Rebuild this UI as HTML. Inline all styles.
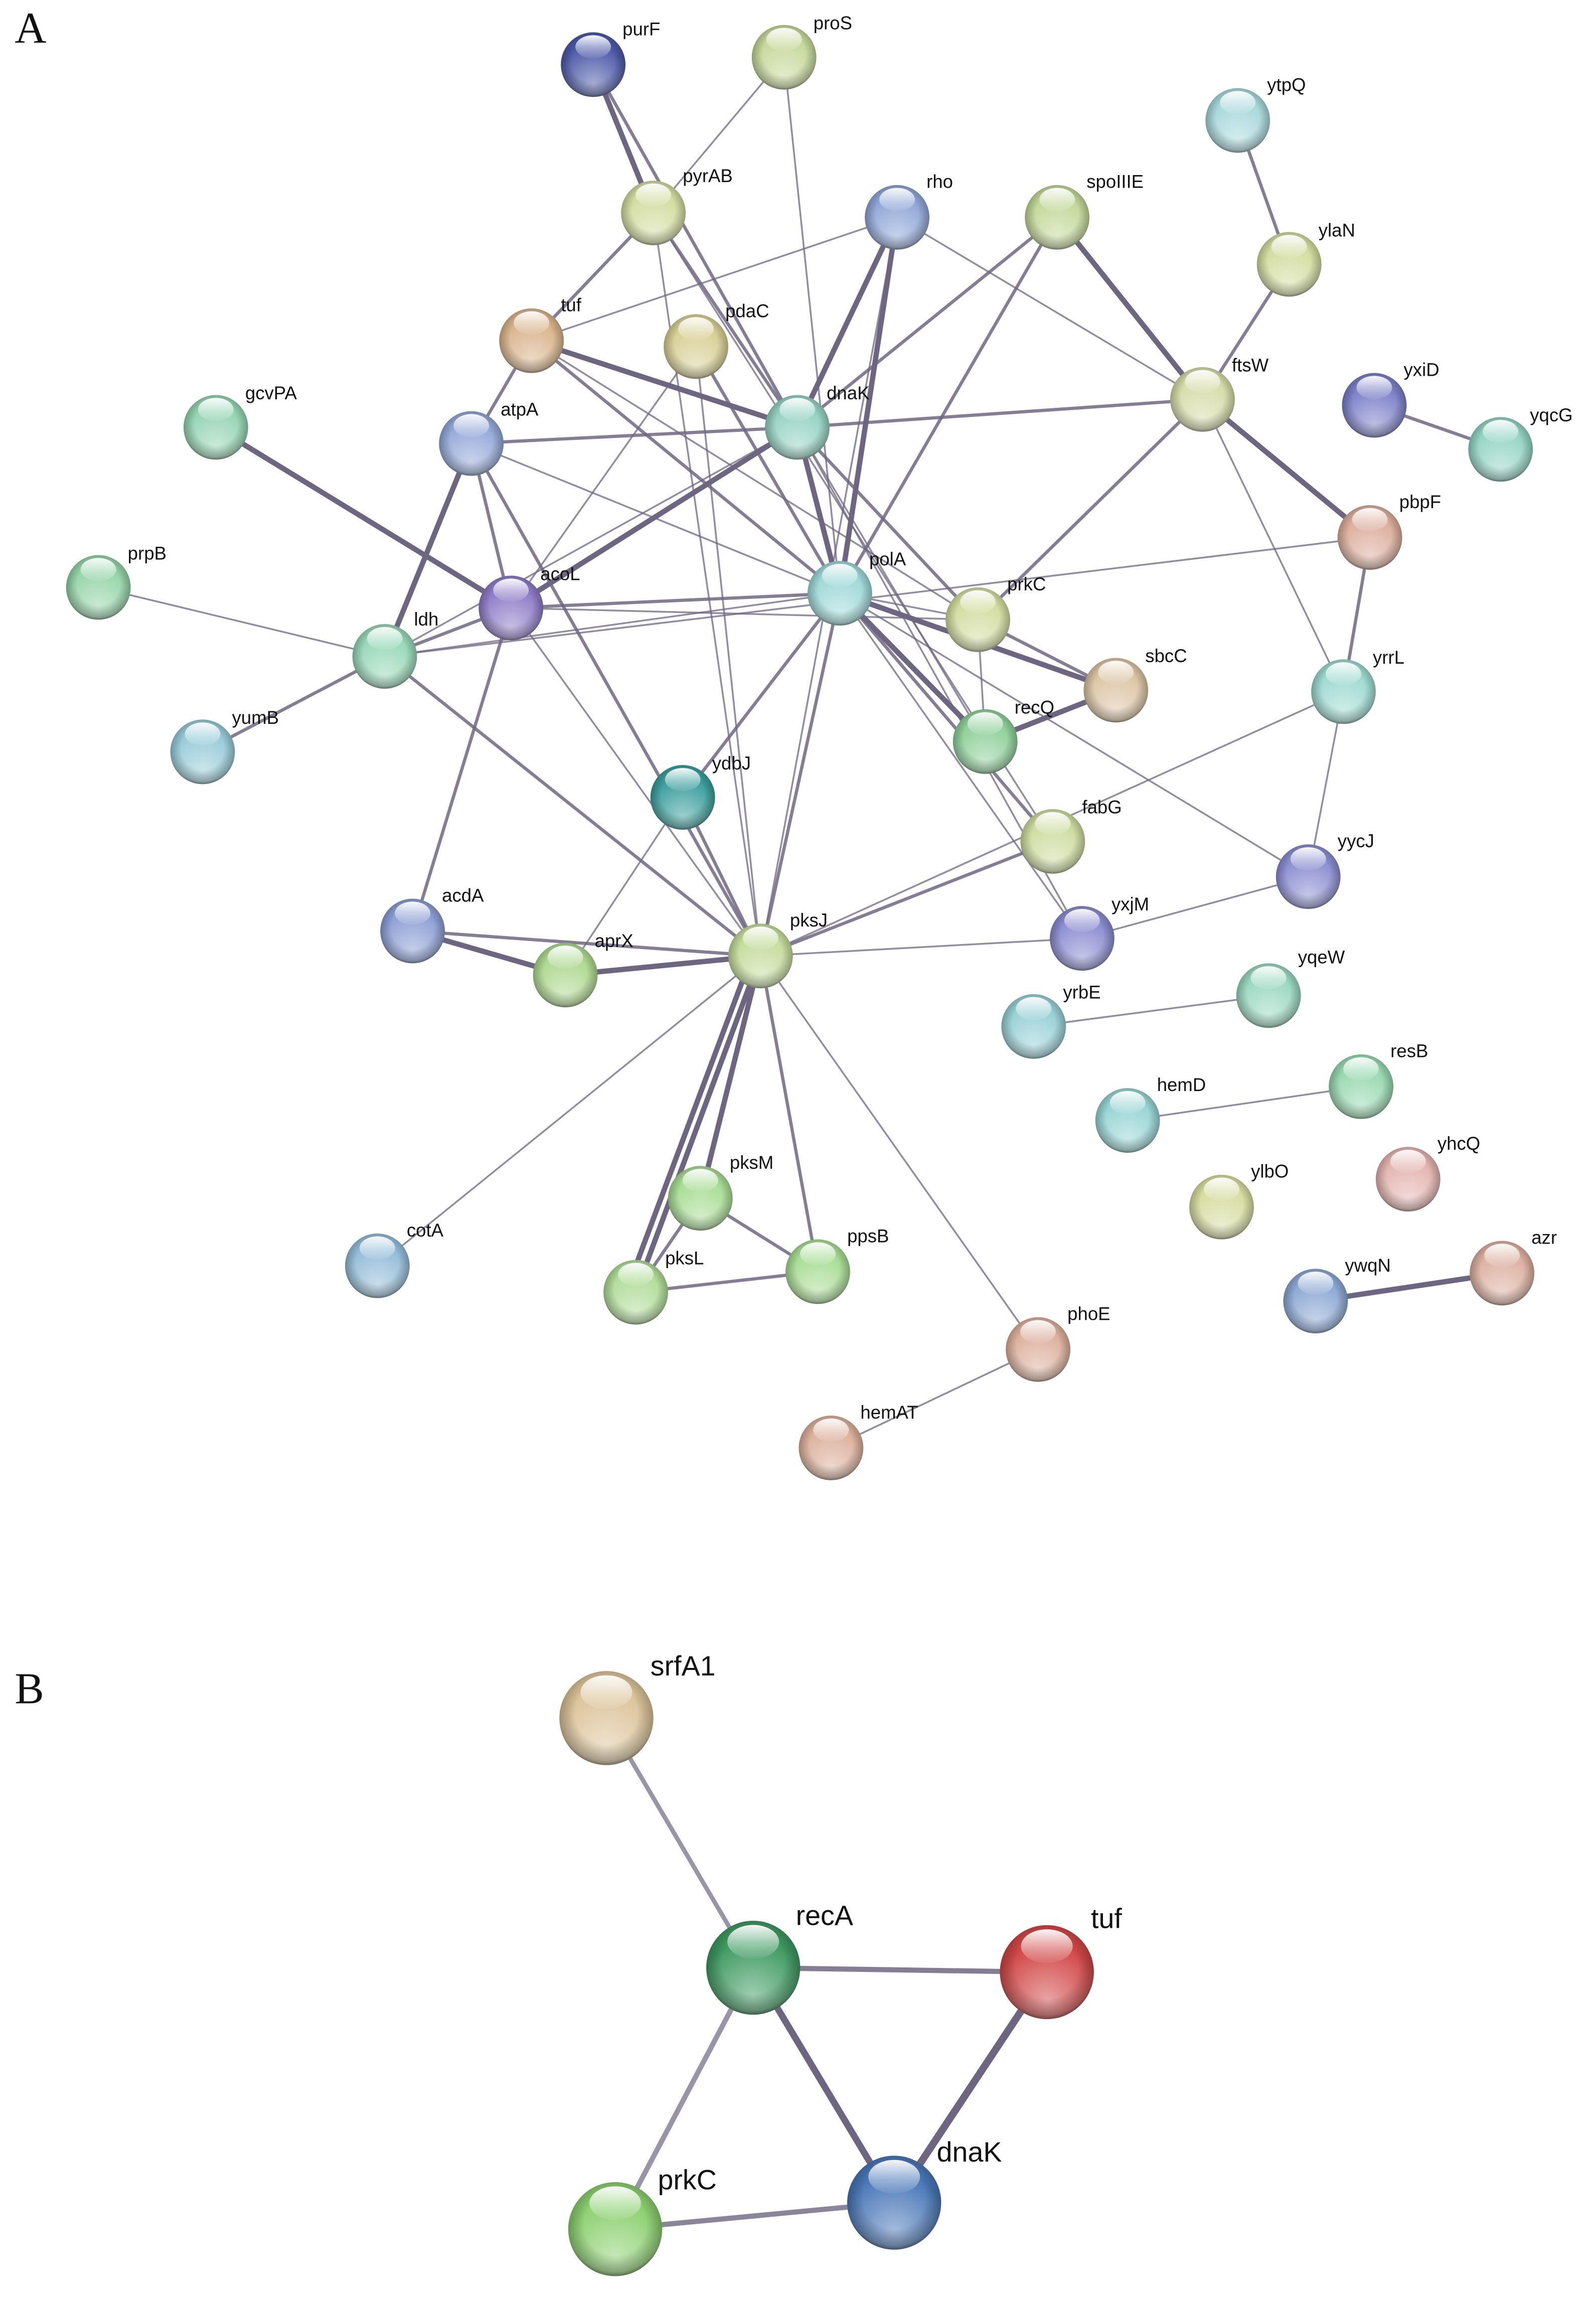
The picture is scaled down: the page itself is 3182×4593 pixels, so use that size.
<!DOCTYPE html>
<html><head><meta charset="utf-8">
<style>
html,body{margin:0;padding:0;background:#fff;}
svg{display:block;}
text{font-family:"Liberation Sans",sans-serif;fill:#111;}
</style></head>
<body>
<svg width="3182" height="4593" viewBox="0 0 1087 1569" xmlns="http://www.w3.org/2000/svg">
<defs>
<radialGradient id="shade" cx="50%" cy="45%" r="55%">
<stop offset="0.6" stop-color="#000" stop-opacity="0"/>
<stop offset="0.92" stop-color="#000" stop-opacity="0.28"/>
<stop offset="1" stop-color="#000" stop-opacity="0.5"/>
</radialGradient>
<radialGradient id="lite" cx="50%" cy="80%" r="60%">
<stop offset="0" stop-color="#fff" stop-opacity="0.5"/>
<stop offset="1" stop-color="#fff" stop-opacity="0"/>
</radialGradient>
<linearGradient id="hl" x1="0" y1="0" x2="0" y2="1">
<stop offset="0" stop-color="#fff" stop-opacity="0.95"/>
<stop offset="1" stop-color="#fff" stop-opacity="0.05"/>
</linearGradient>
<symbol id="sph" viewBox="-1 -1 2 2" overflow="visible">
<circle r="1" fill="url(#lite)"/>
<circle r="1" fill="url(#shade)"/>
<ellipse cx="0" cy="-0.55" rx="0.55" ry="0.36" fill="url(#hl)"/>
</symbol>
</defs>

<g stroke="#6e6680" stroke-linecap="round" fill="none">
<!-- thin -->
<g stroke-width="1.2" stroke-opacity="0.75">
<line x1="534" y1="39" x2="445" y2="145"/>
<line x1="534" y1="39" x2="572" y2="404"/>
<line x1="445" y1="145" x2="518" y2="651"/>
<line x1="445" y1="145" x2="717" y2="573"/>
<line x1="611" y1="148" x2="819" y2="272"/>
<line x1="611" y1="148" x2="362" y2="232"/>
<line x1="611" y1="148" x2="518" y2="651"/>
<line x1="362" y1="232" x2="666" y2="422"/>
<line x1="474" y1="236" x2="348" y2="414"/>
<line x1="474" y1="236" x2="518" y2="651"/>
<line x1="543" y1="291" x2="737" y2="639"/>
<line x1="543" y1="291" x2="262" y2="447"/>
<line x1="543" y1="291" x2="671" y2="505"/>
<line x1="819" y1="272" x2="915" y2="471"/>
<line x1="933" y1="366" x2="262" y2="447"/>
<line x1="67" y1="400" x2="262" y2="447"/>
<line x1="348" y1="414" x2="518" y2="651"/>
<line x1="348" y1="414" x2="666" y2="422"/>
<line x1="572" y1="404" x2="891" y2="597"/>
<line x1="572" y1="404" x2="737" y2="639"/>
<line x1="262" y1="447" x2="572" y2="404"/>
<line x1="915" y1="471" x2="518" y2="651"/>
<line x1="915" y1="471" x2="891" y2="597"/>
<line x1="465" y1="543" x2="385" y2="664"/>
<line x1="891" y1="597" x2="737" y2="639"/>
<line x1="518" y1="651" x2="257" y2="862"/>
<line x1="518" y1="651" x2="707" y2="919"/>
<line x1="518" y1="651" x2="737" y2="639"/>
<line x1="518" y1="651" x2="385" y2="664"/>
<line x1="864" y1="678" x2="704" y2="699"/>
<line x1="927" y1="740" x2="768" y2="763"/>
<line x1="707" y1="919" x2="566" y2="986"/>
<line x1="321" y1="302" x2="572" y2="404"/>
<line x1="666" y1="422" x2="671" y2="505"/>
<line x1="572" y1="404" x2="666" y2="422"/>
</g>
<!-- medium -->
<g stroke-width="2.2" stroke-opacity="0.85">
<line x1="404" y1="44" x2="543" y2="291"/>
<line x1="445" y1="145" x2="543" y2="291"/>
<line x1="720" y1="148" x2="543" y2="291"/>
<line x1="720" y1="148" x2="572" y2="404"/>
<line x1="843" y1="82" x2="878" y2="180"/>
<line x1="878" y1="180" x2="819" y2="272"/>
<line x1="362" y1="232" x2="321" y2="302"/>
<line x1="362" y1="232" x2="572" y2="404"/>
<line x1="474" y1="236" x2="572" y2="404"/>
<line x1="543" y1="291" x2="819" y2="272"/>
<line x1="543" y1="291" x2="321" y2="302"/>
<line x1="543" y1="291" x2="666" y2="422"/>
<line x1="819" y1="272" x2="666" y2="422"/>
<line x1="936" y1="276" x2="1022" y2="306"/>
<line x1="321" y1="302" x2="348" y2="414"/>
<line x1="321" y1="302" x2="518" y2="651"/>
<line x1="933" y1="366" x2="915" y2="471"/>
<line x1="348" y1="414" x2="281" y2="634"/>
<line x1="348" y1="414" x2="262" y2="447"/>
<line x1="348" y1="414" x2="572" y2="404"/>
<line x1="572" y1="404" x2="518" y2="651"/>
<line x1="572" y1="404" x2="465" y2="543"/>
<line x1="572" y1="404" x2="717" y2="573"/>
<line x1="666" y1="422" x2="760" y2="470"/>
<line x1="262" y1="447" x2="138" y2="512"/>
<line x1="262" y1="447" x2="518" y2="651"/>
<line x1="465" y1="543" x2="518" y2="651"/>
<line x1="717" y1="573" x2="518" y2="651"/>
<line x1="281" y1="634" x2="518" y2="651"/>
<line x1="518" y1="651" x2="557" y2="866"/>
<line x1="477" y1="816" x2="433" y2="880"/>
<line x1="477" y1="816" x2="557" y2="866"/>
<line x1="433" y1="880" x2="557" y2="866"/>
<line x1="362" y1="232" x2="445" y2="145"/>
</g>
<!-- thick -->
<g stroke-width="3.6">
<line x1="404" y1="44" x2="445" y2="145"/>
<line x1="611" y1="148" x2="543" y2="291"/>
<line x1="611" y1="148" x2="572" y2="404"/>
<line x1="720" y1="148" x2="819" y2="272"/>
<line x1="362" y1="232" x2="543" y2="291"/>
<line x1="543" y1="291" x2="348" y2="414"/>
<line x1="543" y1="291" x2="572" y2="404"/>
<line x1="819" y1="272" x2="933" y2="366"/>
<line x1="147" y1="291" x2="348" y2="414"/>
<line x1="321" y1="302" x2="262" y2="447"/>
<line x1="572" y1="404" x2="760" y2="470"/>
<line x1="572" y1="404" x2="671" y2="505"/>
<line x1="671" y1="505" x2="760" y2="470"/>
<line x1="281" y1="634" x2="385" y2="664"/>
<line x1="385" y1="664" x2="518" y2="651"/>
<line x1="518" y1="651" x2="477" y2="816"/>
<line x1="518" y1="651" x2="433" y2="880"/>
<line x1="512" y1="651" x2="427" y2="878"/>
<line x1="1023" y1="867" x2="896" y2="886"/>
</g>
<!-- B -->
<line x1="413" y1="1170" x2="513" y2="1340" stroke-width="3" stroke-opacity="0.7"/>
<line x1="513" y1="1340" x2="713" y2="1343" stroke-width="3.5" stroke-opacity="0.85"/>
<line x1="513" y1="1340" x2="419" y2="1518" stroke-width="3.5" stroke-opacity="0.7"/>
<line x1="513" y1="1340" x2="609" y2="1500" stroke-width="4.5"/>
<line x1="713" y1="1343" x2="609" y2="1500" stroke-width="5"/>
<line x1="419" y1="1518" x2="609" y2="1500" stroke-width="3.5" stroke-opacity="0.8"/>
</g>

<g>
<!-- nodes A: circle color then sphere overlay -->
<g id="nodes">
<circle cx="404" cy="44" r="22" fill="#4d5aa8"/><use href="#sph" x="382" y="22" width="44" height="44"/>
<circle cx="534" cy="39" r="22" fill="#c6d89a"/><use href="#sph" x="512" y="17" width="44" height="44"/>
<circle cx="445" cy="145" r="22" fill="#d3dca0"/><use href="#sph" x="423" y="123" width="44" height="44"/>
<circle cx="611" cy="148" r="22" fill="#8fa6d6"/><use href="#sph" x="589" y="126" width="44" height="44"/>
<circle cx="720" cy="148" r="22" fill="#c3d899"/><use href="#sph" x="698" y="126" width="44" height="44"/>
<circle cx="843" cy="82" r="22" fill="#a8d8dc"/><use href="#sph" x="821" y="60" width="44" height="44"/>
<circle cx="878" cy="180" r="22" fill="#d3dca0"/><use href="#sph" x="856" y="158" width="44" height="44"/>
<circle cx="362" cy="232" r="22" fill="#d9b48c"/><use href="#sph" x="340" y="210" width="44" height="44"/>
<circle cx="474" cy="236" r="22" fill="#d8cf95"/><use href="#sph" x="452" y="214" width="44" height="44"/>
<circle cx="543" cy="291" r="22" fill="#95d2c2"/><use href="#sph" x="521" y="269" width="44" height="44"/>
<circle cx="819" cy="272" r="22" fill="#d6dca8"/><use href="#sph" x="797" y="250" width="44" height="44"/>
<circle cx="936" cy="276" r="22" fill="#7c80c8"/><use href="#sph" x="914" y="254" width="44" height="44"/>
<circle cx="1022" cy="306" r="22" fill="#94d4c4"/><use href="#sph" x="1000" y="284" width="44" height="44"/>
<circle cx="147" cy="291" r="22" fill="#95d4b2"/><use href="#sph" x="125" y="269" width="44" height="44"/>
<circle cx="321" cy="302" r="22" fill="#94a8d8"/><use href="#sph" x="299" y="280" width="44" height="44"/>
<circle cx="933" cy="366" r="22" fill="#dcae9c"/><use href="#sph" x="911" y="344" width="44" height="44"/>
<circle cx="67" cy="400" r="22" fill="#95d4a8"/><use href="#sph" x="45" y="378" width="44" height="44"/>
<circle cx="348" cy="414" r="22" fill="#8f7cc8"/><use href="#sph" x="326" y="392" width="44" height="44"/>
<circle cx="572" cy="404" r="22" fill="#9fd8d8"/><use href="#sph" x="550" y="382" width="44" height="44"/>
<circle cx="666" cy="422" r="22" fill="#d3dca0"/><use href="#sph" x="644" y="400" width="44" height="44"/>
<circle cx="760" cy="470" r="22" fill="#dbc4a4"/><use href="#sph" x="738" y="448" width="44" height="44"/>
<circle cx="262" cy="447" r="22" fill="#98d8b8"/><use href="#sph" x="240" y="425" width="44" height="44"/>
<circle cx="915" cy="471" r="22" fill="#9edad0"/><use href="#sph" x="893" y="449" width="44" height="44"/>
<circle cx="671" cy="505" r="22" fill="#8fd09a"/><use href="#sph" x="649" y="483" width="44" height="44"/>
<circle cx="138" cy="512" r="22" fill="#98cbd8"/><use href="#sph" x="116" y="490" width="44" height="44"/>
<circle cx="465" cy="543" r="22" fill="#3c9e9e"/><use href="#sph" x="443" y="521" width="44" height="44"/>
<circle cx="717" cy="573" r="22" fill="#cddca0"/><use href="#sph" x="695" y="551" width="44" height="44"/>
<circle cx="891" cy="597" r="22" fill="#8a8ed0"/><use href="#sph" x="869" y="575" width="44" height="44"/>
<circle cx="281" cy="634" r="22" fill="#8c9ed4"/><use href="#sph" x="259" y="612" width="44" height="44"/>
<circle cx="385" cy="664" r="22" fill="#aed890"/><use href="#sph" x="363" y="642" width="44" height="44"/>
<circle cx="518" cy="651" r="22" fill="#c4dc9c"/><use href="#sph" x="496" y="629" width="44" height="44"/>
<circle cx="737" cy="639" r="22" fill="#8a8cd0"/><use href="#sph" x="715" y="617" width="44" height="44"/>
<circle cx="864" cy="678" r="22" fill="#9ad8c0"/><use href="#sph" x="842" y="656" width="44" height="44"/>
<circle cx="704" cy="699" r="22" fill="#98d0d6"/><use href="#sph" x="682" y="677" width="44" height="44"/>
<circle cx="927" cy="740" r="22" fill="#98d8b0"/><use href="#sph" x="905" y="718" width="44" height="44"/>
<circle cx="768" cy="763" r="22" fill="#98d4d4"/><use href="#sph" x="746" y="741" width="44" height="44"/>
<circle cx="959" cy="803" r="22" fill="#e4b4b0"/><use href="#sph" x="937" y="781" width="44" height="44"/>
<circle cx="832" cy="822" r="22" fill="#d6dca0"/><use href="#sph" x="810" y="800" width="44" height="44"/>
<circle cx="477" cy="816" r="22" fill="#a8dc94"/><use href="#sph" x="455" y="794" width="44" height="44"/>
<circle cx="557" cy="866" r="22" fill="#a8dc94"/><use href="#sph" x="535" y="844" width="44" height="44"/>
<circle cx="257" cy="862" r="22" fill="#94bcd8"/><use href="#sph" x="235" y="840" width="44" height="44"/>
<circle cx="433" cy="880" r="22" fill="#b0dc98"/><use href="#sph" x="411" y="858" width="44" height="44"/>
<circle cx="1023" cy="867" r="22" fill="#dcb0a0"/><use href="#sph" x="1001" y="845" width="44" height="44"/>
<circle cx="896" cy="886" r="22" fill="#8ca8d4"/><use href="#sph" x="874" y="864" width="44" height="44"/>
<circle cx="707" cy="919" r="22" fill="#dcb09c"/><use href="#sph" x="685" y="897" width="44" height="44"/>
<circle cx="566" cy="986" r="22" fill="#dcb09c"/><use href="#sph" x="544" y="964" width="44" height="44"/>
</g>
<!-- B nodes -->
<circle cx="413" cy="1170" r="32" fill="#dcc49a"/><use href="#sph" x="381" y="1138" width="64" height="64"/>
<circle cx="513" cy="1340" r="32" fill="#3f9a62"/><use href="#sph" x="481" y="1308" width="64" height="64"/>
<circle cx="713" cy="1343" r="32" fill="#d24848"/><use href="#sph" x="681" y="1311" width="64" height="64"/>
<circle cx="419" cy="1518" r="32" fill="#8cd070"/><use href="#sph" x="387" y="1486" width="64" height="64"/>
<circle cx="609" cy="1500" r="32" fill="#4a78b8"/><use href="#sph" x="577" y="1468" width="64" height="64"/>
</g>

<g font-size="12.5">
<text x="424" y="24">purF</text>
<text x="554" y="20">proS</text>
<text x="465" y="124">pyrAB</text>
<text x="631" y="128">rho</text>
<text x="740" y="128">spoIIIE</text>
<text x="863" y="62">ytpQ</text>
<text x="898" y="161">ylaN</text>
<text x="382" y="212">tuf</text>
<text x="494" y="216">pdaC</text>
<text x="563" y="272">dnaK</text>
<text x="839" y="253">ftsW</text>
<text x="956" y="256">yxiD</text>
<text x="1042" y="287">yqcG</text>
<text x="167" y="272">gcvPA</text>
<text x="341" y="283">atpA</text>
<text x="953" y="346">pbpF</text>
<text x="87" y="381">prpB</text>
<text x="368" y="395">acoL</text>
<text x="592" y="385">polA</text>
<text x="686" y="402">prkC</text>
<text x="780" y="451">sbcC</text>
<text x="282" y="426">ldh</text>
<text x="935" y="452">yrrL</text>
<text x="691" y="486">recQ</text>
<text x="158" y="493">yumB</text>
<text x="485" y="524">ydbJ</text>
<text x="737" y="554">fabG</text>
<text x="911" y="577">yycJ</text>
<text x="301" y="614">acdA</text>
<text x="405" y="645">aprX</text>
<text x="538" y="631">pksJ</text>
<text x="757" y="620">yxjM</text>
<text x="884" y="656">yqeW</text>
<text x="724" y="680">yrbE</text>
<text x="947" y="720">resB</text>
<text x="788" y="743">hemD</text>
<text x="979" y="783">yhcQ</text>
<text x="852" y="802">ylbO</text>
<text x="497" y="796">pksM</text>
<text x="577" y="846">ppsB</text>
<text x="277" y="842">cotA</text>
<text x="453" y="861">pksL</text>
<text x="1043" y="847">azr</text>
<text x="916" y="866">ywqN</text>
<text x="727" y="899">phoE</text>
<text x="586" y="966">hemAT</text>
</g>
<g font-size="19">
<text x="443" y="1141">srfA1</text>
<text x="542" y="1311">recA</text>
<text x="743" y="1313">tuf</text>
<text x="448" y="1491">prkC</text>
<text x="638" y="1472">dnaK</text>
</g>
<text x="10" y="29" font-size="30" style="font-family:'Liberation Serif',serif">A</text>
<text x="10" y="1160" font-size="30" style="font-family:'Liberation Serif',serif">B</text>
</svg>
</body></html>
